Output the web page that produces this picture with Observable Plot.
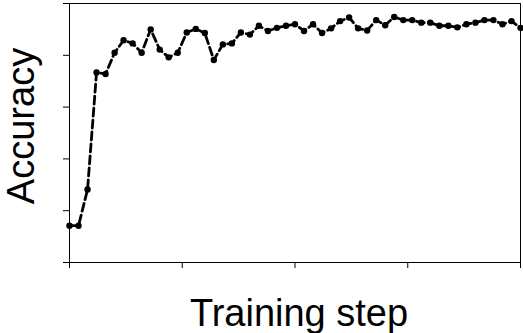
<!DOCTYPE html>
<html>
<head>
<meta charset="utf-8">
<script src="https://cdn.jsdelivr.net/npm/d3@7"></script>
<script src="https://cdn.jsdelivr.net/npm/@observablehq/plot@0.6"></script>
<style>
  html, body { margin: 0; padding: 0; background: white; }
</style>
</head>
<body>
<div id="chart"></div>
<script>
const steps = [0,1,2,3,4,5,6,7,8,9,10,11,12,13,14,15,16,17,18,19,20,21,22,23,24,25,26,27,28,29,30,31,32,33,34,35,36,37,38,39,40,41,42,43,44,45,46,47,48,49,50];
const accuracy = [0.571,0.571,0.641,0.867,0.864,0.905,0.929,0.923,0.905,0.950,
                  0.911,0.896,0.905,0.944,0.951,0.943,0.891,0.921,0.923,0.944,
                  0.940,0.957,0.947,0.953,0.957,0.960,0.947,0.960,0.943,0.952,
                  0.966,0.973,0.952,0.948,0.968,0.958,0.974,0.968,0.968,0.963,
                  0.963,0.957,0.957,0.954,0.960,0.963,0.968,0.968,0.960,0.966,
                  0.953];
const xTicks = [0, 12.5, 25, 37.5, 50];
const yTicks = [0.5, 0.6, 0.7, 0.8, 0.9, 1.0];
const xLabel = "Training step";
const yLabel = "Accuracy";

const data = steps.map((s, i) => ({step: s, acc: accuracy[i]}));

const chart = Plot.plot({
  width: 523,
  height: 333,
  marginLeft: 69,
  marginRight: 3,
  marginTop: 3,
  marginBottom: 71,
  style: {fontFamily: "'Liberation Sans', Arial, sans-serif", background: "white", color: "black"},
  x: {domain: [0, 50]},
  y: {domain: [0.5, 1.0]},
  marks: [
    Plot.frame({stroke: "black", strokeWidth: 1}),
    Plot.axisX({ticks: xTicks, tickFormat: () => "", tickSize: 6, label: null, stroke: "black"}),
    Plot.axisY({ticks: yTicks, tickFormat: () => "", tickSize: 6, label: null, stroke: "black"}),
    Plot.line(data, {x: "step", y: "acc", stroke: "black", strokeWidth: 2.8, strokeDasharray: "8,4"}),
    Plot.dot(data, {x: "step", y: "acc", r: 3.2, fill: "black", stroke: "none"}),
    Plot.text([xLabel], {frameAnchor: "bottom", textAnchor: "middle", lineAnchor: "bottom", dy: 63, dx: 4, fontSize: 38, fill: "black"}),
    Plot.text([yLabel], {frameAnchor: "left", textAnchor: "middle", lineAnchor: "bottom", rotate: -90, dx: -36, dy: -7, fontSize: 38, fill: "black"})
  ]
});
document.getElementById("chart").appendChild(chart);
</script>
</body>
</html>
